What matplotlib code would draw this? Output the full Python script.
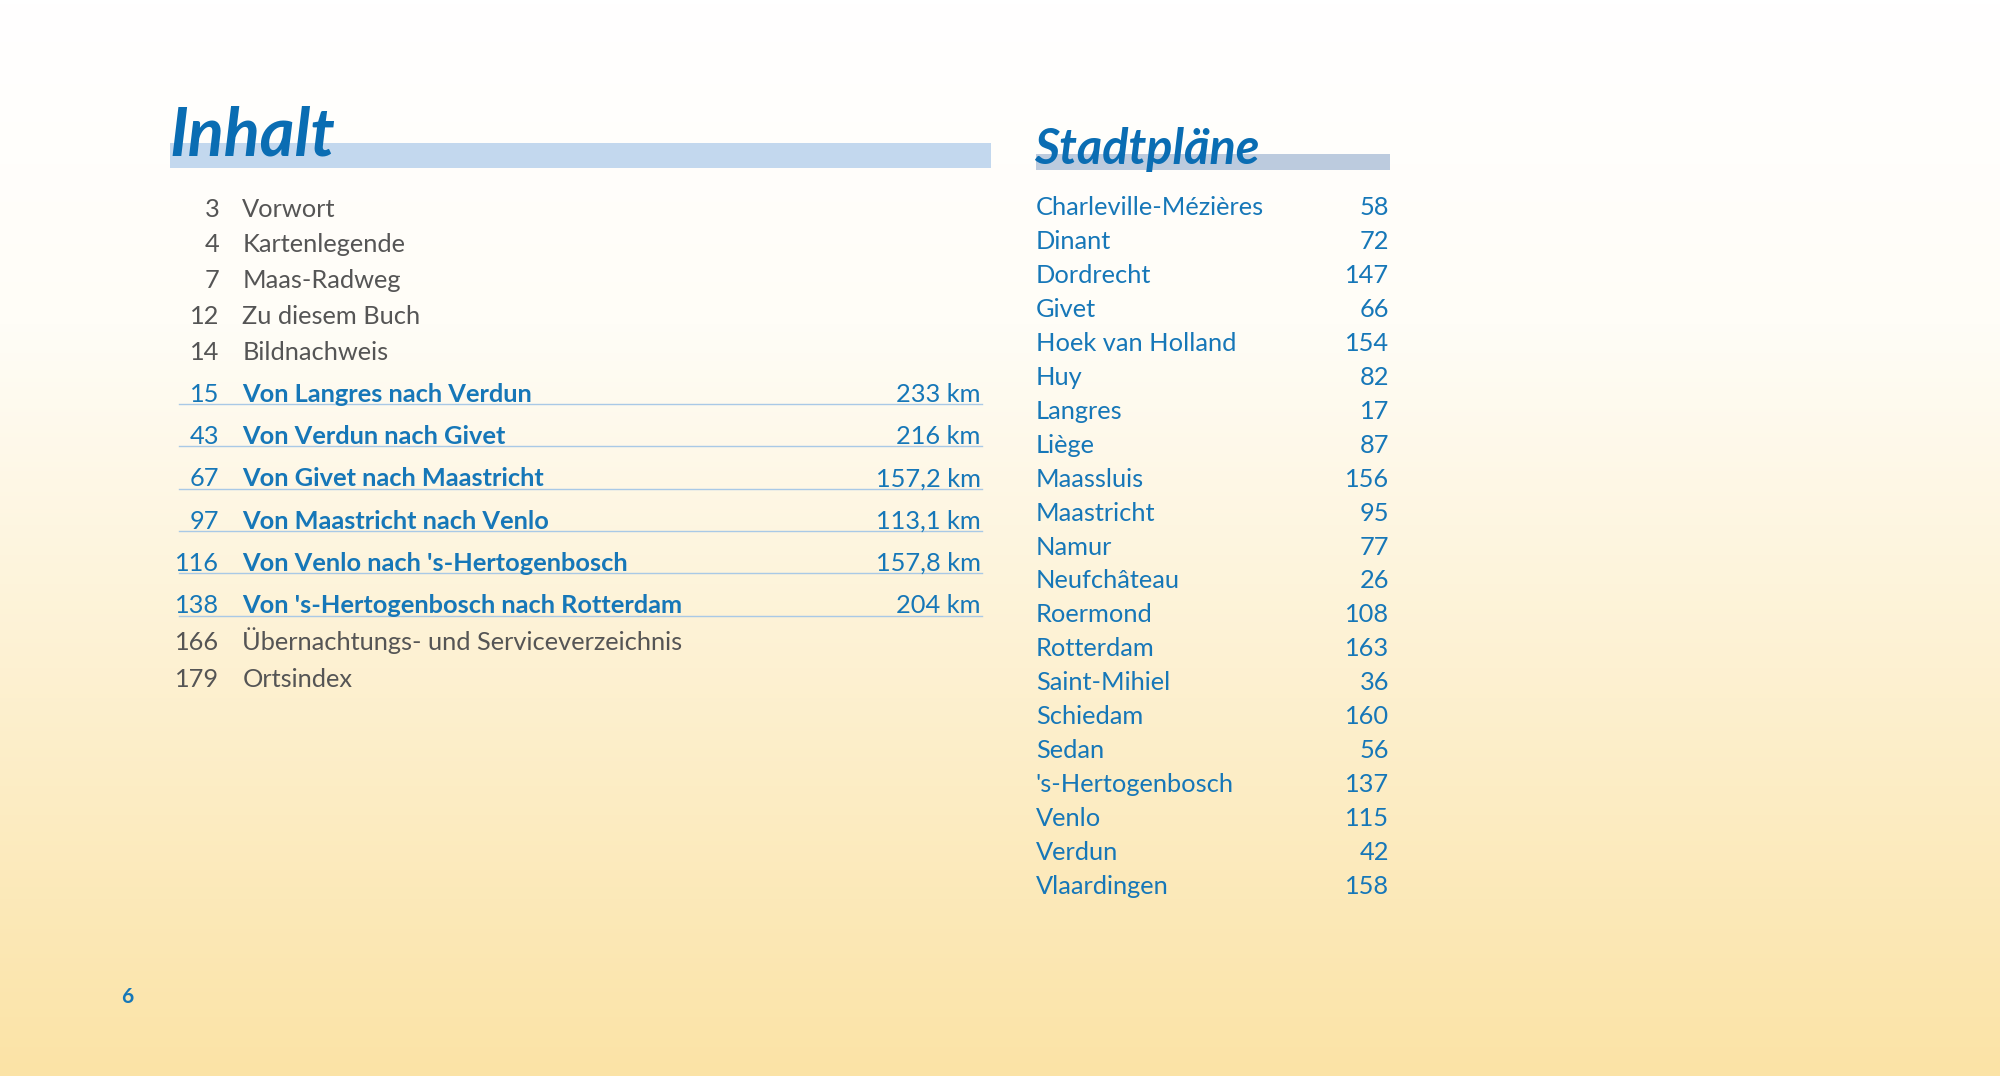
import numpy as np
import matplotlib.pyplot as plt
from matplotlib.colors import LinearSegmentedColormap

plain_pages = ["3", "4", "7", "12", "14"]
plain_titles = ["Vorwort", "Kartenlegende", "Maas-Radweg", "Zu diesem Buch", "Bildnachweis"]
route_pages = ["15", "43", "67", "97", "116", "138"]
route_titles = ["Von Langres nach Verdun", "Von Verdun nach Givet", "Von Givet nach Maastricht",
                "Von Maastricht nach Venlo", "Von Venlo nach 's-Hertogenbosch",
                "Von 's-Hertogenbosch nach Rotterdam"]
route_km = ["233 km", "216 km", "157,2 km", "113,1 km", "157,8 km", "204 km"]
tail_pages = ["166", "179"]
tail_titles = ["Übernachtungs- und Serviceverzeichnis", "Ortsindex"]
cities = ["Charleville-Mézières", "Dinant", "Dordrecht", "Givet", "Hoek van Holland", "Huy",
          "Langres", "Liège", "Maassluis", "Maastricht", "Namur", "Neufchâteau", "Roermond",
          "Rotterdam", "Saint-Mihiel", "Schiedam", "Sedan", "'s-Hertogenbosch", "Venlo",
          "Verdun", "Vlaardingen"]
city_pages = [58, 72, 147, 66, 154, 82, 17, 87, 156, 95, 77, 26, 108, 163, 36, 160, 56, 137,
              115, 42, 158]

plt.rcParams['font.family'] = ['Lato', 'DejaVu Sans']
fig = plt.figure(figsize=(20, 10.76), dpi=100)
ax = fig.add_axes([0, 0, 1, 1])
ax.set_xlim(0, 1568)
ax.set_ylim(844, 0)
ax.axis('off')

cmap = LinearSegmentedColormap.from_list('bg', [(0, '#ffffff'), (0.3, '#fffdf7'), (1, '#fbe3a6')])
ax.imshow(np.linspace(0, 1, 256)[:, None], cmap=cmap, extent=[0, 1568, 844, 0], aspect='auto', zorder=0)

blue = '#1677b8'
gray = '#555555'
fs = 18.3

# headers
ax.fill_between([133, 777], 112, 132, color='#c3d8ee', zorder=1, lw=0)
ax.text(133, 122, "Inhalt", fontsize=48, fontweight='bold', style='italic', color='#0a6db3',
        va='baseline', zorder=2)
ax.fill_between([812, 1090], 121, 133, color='#bccbde', zorder=1, lw=0)
ax.text(811, 129, "Stadtpläne", fontsize=35, fontweight='bold', style='italic', color='#0a6db3',
        va='baseline', zorder=2)

y = 170
for p, t in zip(plain_pages, plain_titles):
    ax.text(172, y, p, fontsize=fs, color=gray, ha='right', va='baseline')
    ax.text(190, y, t, fontsize=fs, color=gray, va='baseline')
    y += 28
y = 315
for p, t, k in zip(route_pages, route_titles, route_km):
    ax.text(172, y, p, fontsize=fs, color=blue, ha='right', va='baseline')
    ax.text(190, y, t, fontsize=fs, color=blue, fontweight='bold', va='baseline')
    ax.text(769, y, k, fontsize=fs, color=blue, ha='right', va='baseline')
    ax.plot([140, 770], [y + 2, y + 2], color='#a9c9e6', lw=1)
    y += 33.2
y = 510
for p, t in zip(tail_pages, tail_titles):
    ax.text(172, y, p, fontsize=fs, color=gray, ha='right', va='baseline')
    ax.text(190, y, t, fontsize=fs, color=gray, va='baseline')
    y += 29

for i, (c, p) in enumerate(zip(cities, city_pages)):
    yy = 169 + i * 26.6
    ax.text(812, yy, c, fontsize=fs, color=blue, va='baseline')
    ax.text(1089, yy, str(p), fontsize=fs, color=blue, ha='right', va='baseline')

ax.text(95, 787, "6", fontsize=15, fontweight='bold', color=blue, va='baseline')

fig.savefig('out.png', dpi=100)
